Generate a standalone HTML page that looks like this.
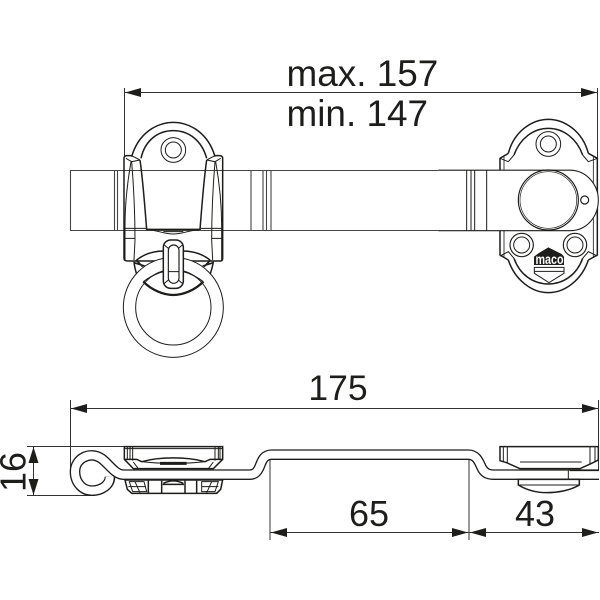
<!DOCTYPE html>
<html>
<head>
<meta charset="utf-8">
<style>
html,body{margin:0;padding:0;background:#fff;width:600px;height:600px;overflow:hidden}
svg{display:block}
text{font-family:"Liberation Sans",sans-serif;fill:#1d1d1b}
</style>
</head>
<body>
<svg width="600" height="600" viewBox="0 0 600 600" xmlns="http://www.w3.org/2000/svg">
<rect width="600" height="600" fill="#fff"/>

<!-- Dimension lines -->
<g stroke="#333" stroke-width="1" fill="none">
  <path d="M124.5 88V156M597.5 88V160M124 92.5H597"/>
  <path d="M70.5 400V470M598.5 400V480M70 408.5H598"/>
  <path d="M27 446.5H125M27 495.5H95M33.5 446V495"/>
  <path d="M270 459V540M469 459V540M270 532.5H599"/>
</g>
<g fill="#1d1d1b">
  <path d="M125 92.5l16-4.500v9zM597 92.5l-16-4.500v9z"/>
  <path d="M71 408.5l16-4.500v9zM598 408.5l-16-4.500v9z"/>
  <path d="M33.5 447l-5 16h10zM33.5 495l-5-16h10z"/>
  <path d="M271 532.5l16-4.500v9zM468 532.5l-16-4.500v9zM470 532.5l16-4.500v9zM598 532.5l-16-4.500v9z"/>
</g>
<text x="286.500" y="86" font-size="36.900">max. 157</text>
<text x="286.500" y="126" font-size="36.900">min. 147</text>
<text x="338" y="400" font-size="35.500" text-anchor="middle">175</text>
<text x="369" y="526" font-size="36" text-anchor="middle">65</text>
<text x="535" y="526" font-size="36" text-anchor="middle">43</text>
<text transform="translate(25.500 472) rotate(-90)" font-size="36" text-anchor="middle">16</text>

<!-- Bar -->
<g stroke="#444" stroke-width="1.100" fill="none">
  <path d="M573 170.500H70.500V230.500H573"/>
  <path d="M114.500 170V230M117.500 170V230M251 170V230M263 170V230M266.500 170V230M271 170V230"/>
</g>

<!-- Left plate -->
<g transform="translate(60 110) scale(.33333)" fill="none" stroke="#1d1d1b" stroke-width="4.500">
  <path d="M215 140C235 70 290 37 340 37C390 37 445 70 465 140"/>
  <path d="M243 145C255 90 295 62 340 62C385 62 425 90 440 145"/>
  <path d="M192 145Q192 138 200 137H215M465 137H480Q488 138 488 145V445Q488 453 480 453H205Q192 453 192 445V145"/>
  <path d="M240 150C250 220 255 300 260 358H420C425 300 430 220 440 150"/>
  <path stroke-width="3" d="M215 137L240 150M465 137L440 150M198 145L215 155L240 150M482 145L465 155L440 150"/>
  <path stroke-width="3" d="M213 155C205 200 195 270 195 350V450M467 155C475 200 485 270 485 350V450M193 355H258M422 355H487M195 385H225M455 385H485"/>
  <path stroke-width="3" d="M215 155C222 240 225 320 225 390L222 450M465 155C458 240 455 320 455 390L458 450"/>
  <path stroke-width="3" d="M258 358C300 362 310 372 340 372C370 372 380 362 422 358M310 365H370"/>
  <circle cx="340" cy="120" r="37" stroke-width="3"/>
  <circle cx="340" cy="120" r="24" stroke-width="3"/>
  <path d="M222 455C222 455 225 490 240 515C270 545 310 555 340 555C370 555 410 545 440 515C455 490 460 455 460 455"/>
  <path d="M230 450C255 430 285 423 312 423M368 423C395 423 425 430 450 450"/>
  <circle cx="340" cy="592" r="150" fill="#fff" stroke-width="3"/>
  <circle cx="340" cy="592" r="113" fill="#fff" stroke-width="3"/>
  <path d="M250 515C285 490 310 482 340 480C370 482 395 490 430 515" stroke-width="3.500"/>
  <path d="M250 515C275 540 310 555 340 555C370 555 405 540 430 515" stroke-width="7"/>
  <path d="M222 458l32 10M460 458l-32 10M228 450l20 20M452 450l-20 20" stroke-width="5"/>
  <rect x="310" y="390" width="60" height="145" rx="22" fill="#fff"/>
  <rect x="325" y="405" width="32" height="115" rx="16" fill="#fff" stroke-width="3.500"/>
  <path stroke-width="3" d="M313 405l12 10M367 405l-12 10M313 520l12-10M367 520l-12-10M325 485H357"/>
</g>

<!-- Right plate -->
<g transform="translate(440 110) scale(.33333)" fill="none" stroke="#1d1d1b" stroke-width="4.500">
  <path d="M205 130C222 65 275 28 325 28C375 28 428 65 445 130"/>
  <path d="M222 135C240 85 280 55 325 55C370 55 410 85 428 135"/>
  <path d="M205 130L180 145V435L205 450M445 130L472 145V435L445 450"/>
  <path d="M192 140V440M460 140V440" stroke-width="2.500"/>
  <path stroke-width="3" d="M180 145L205 155L222 135M472 145L445 155L428 135M180 438L205 425L222 445M472 438L445 425L428 445"/>
  <path d="M205 450C225 510 275 548 325 548C375 548 425 510 445 450"/>
  <path d="M222 445C240 495 280 522 325 522C370 522 410 495 428 445"/>
  <circle cx="325" cy="102" r="37" stroke-width="3"/>
  <circle cx="325" cy="102" r="24" stroke-width="3"/>
  <circle cx="245" cy="405" r="35" stroke-width="3.500"/>
  <circle cx="245" cy="405" r="24" stroke-width="3"/>
  <circle cx="405" cy="405" r="35" stroke-width="3.500"/>
  <circle cx="405" cy="405" r="24" stroke-width="3"/>
  <path d="M-5 180.500H390C440 180.500 475 225 475 270C475 320 440 362 390 362H-5" fill="#fff" stroke-width="3.200"/>
  <path stroke-width="3" d="M80 180V362M93 180V362M104 180V362M140 180V362"/>
  <circle cx="325" cy="270" r="90" stroke-width="3.500"/>
  <circle cx="325" cy="270" r="85" stroke-width="2"/>
  <circle cx="434" cy="270" r="12" stroke-width="3.500"/>
  <path d="M282 465V440L295 430L325 412L365 432L372 440V465Z" fill="#1d1d1b" stroke="none"/>
  <path stroke-width="3" d="M283 472H372V490L327 518L283 490ZM283 484H372"/>
</g>
<text x="549.500" y="264" font-size="14" font-weight="bold" text-anchor="middle" style="fill:#fff" textLength="28" lengthAdjust="spacingAndGlyphs">maco</text>

<!-- Side view -->
<g transform="translate(0 430) scale(.33333)" fill="none" stroke="#1d1d1b">
  <g stroke-width="4.500">
    <path d="M373 50H668V88L640 116H400L373 88Z" fill="#fff"/>
    <path stroke-width="3" d="M373 56H668M382 50V90M390 50V90M398 50V92M645 50V92M655 50V90M660 50V90"/>
    <path d="M375 88H410L425 95C480 80 560 80 615 95L630 88H668"/>
    <path stroke-width="3" d="M400 96L415 116M640 96L625 116M425 95C480 102 560 102 615 95"/>
    <path stroke-width="9" d="M480 100H560"/>
    <path d="M375 150H668L662 178L650 190H395L382 178Z" fill="#fff"/>
    <path stroke-width="3" d="M388 155H432L440 185H398ZM605 155H655L645 185H605ZM385 170H438M605 170H655M405 155L420 188M635 155L620 188"/>
    <path d="M445 152V190M485 152V190M555 152V190M590 152V190M490 160C510 150 530 150 550 160"/>
    <path d="M488 163H552"/>
  </g>
  <g stroke-linejoin="round">
    <path d="M330 140C330 165 305 182 275 182C250 182 225 160 225 125C225 85 270 62 305 86C325 100 345 134 370 134H750C765 134 772 125 778 112C785 95 790 74 815 74H1405C1430 74 1437 96 1445 113C1452 128 1465 134 1480 134H1797" stroke-width="32"/>
    <path d="M329 140C330 165 305 182 275 182C250 182 225 160 225 125C225 85 270 62 305 86C325 100 345 134 370 134H750C765 134 772 125 778 112C785 95 790 74 815 74H1405C1430 74 1437 96 1445 113C1452 128 1465 134 1480 134H1797" stroke="#fff" stroke-width="24"/>
  </g>
  <g transform="translate(870 0)">
    <path stroke-width="4.500" fill="#fff" d="M630 50H925V90L905 100L870 116H690L650 98L630 92Z"/>
    <path stroke-width="3" d="M640 52V95M652 52V98M900 52V102M915 52V95M690 96H875"/>
    <path stroke-width="3" d="M835 118V146M840 122H927"/>
    <path stroke-width="4.500" fill="#fff" d="M685 148H868V165C840 182 800 188 770 188C740 188 710 180 685 165Z"/>
    <path stroke-width="3" d="M685 165H868"/>
  </g>
</g>
</svg>
</body>
</html>
